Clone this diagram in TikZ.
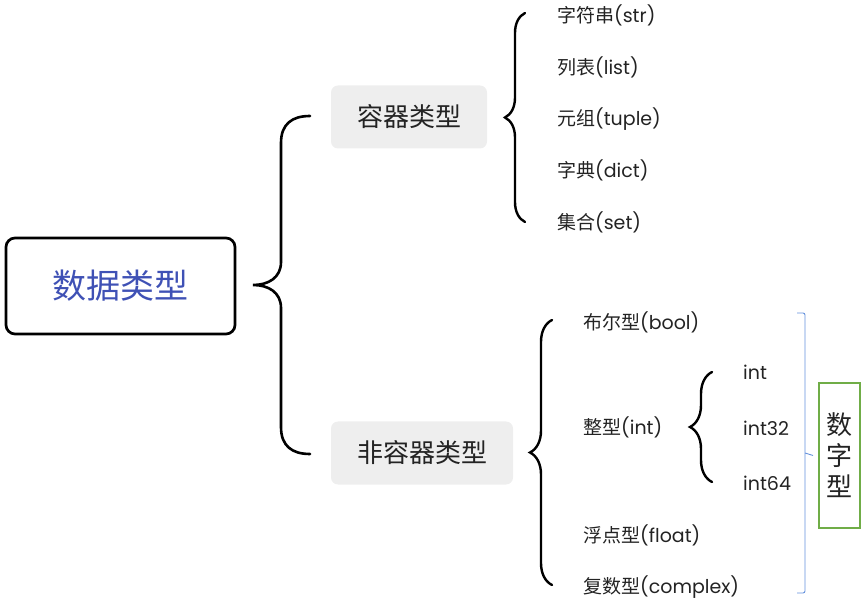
\documentclass[tikz,border=0pt]{standalone}
\usepackage{fontspec}
\setmainfont{Poppins}
\newfontfamily\zhfont{Noto Sans CJK SC}
\usetikzlibrary{decorations.pathreplacing}
\definecolor{rootblue}{RGB}{63,81,181}
\definecolor{boxgray}{RGB}{238,238,238}
\definecolor{numgreen}{RGB}{112,173,71}
\definecolor{bracketblue}{RGB}{100,145,220}
\definecolor{itemtext}{RGB}{35,35,35}
\tikzset{
  curly/.style={decorate,decoration={brace,amplitude=#1},line width=2.4pt,line cap=round},
  item/.style={anchor=west,inner sep=0pt,text=itemtext,font=\fontsize{19}{22}\selectfont},
  kind/.style={fill=boxgray,rounded corners=7pt,inner sep=0pt,minimum height=63pt,text=itemtext,font=\zhfont\fontsize{26}{30}\selectfont}
}

\begin{document}
\begin{tikzpicture}[x=1pt,y=-1pt]
        \useasboundingbox (0,0) rectangle (865,601);
        % root and the two kinds
        \node[draw,line width=2.7pt,rounded corners=9pt,minimum width=229pt,minimum height=96pt,
              text=rootblue,font=\zhfont\fontsize{34}{40}\selectfont] (root) at (120.5,286) {数据类型};
        \node[kind,minimum width=156pt] (cont) at (409,117) {容器类型};
        \node[kind,minimum width=182pt] (noncont) at (422,453) {非容器类型};
        % container items
        \node[item] (str) at (557,15) {{\zhfont 字符串}(str)};
        \node[item] (list) at (557,67) {{\zhfont 列表}(list)};
        \node[item] (tuple) at (557,119) {{\zhfont 元组}(tuple)};
        \node[item] (dict) at (557,170) {{\zhfont 字典}(dict)};
        \node[item] (set) at (557,222) {{\zhfont 集合}(set)};
        % non-container items
        \node[item] (bool) at (583,322) {{\zhfont 布尔型}(bool)};
        \node[item] (int) at (583,427) {{\zhfont 整型}(int)};
        \node[item] (float) at (583,535) {{\zhfont 浮点型}(float)};
        \node[item] (complex) at (583,587) {{\zhfont 复数型}(complex)};
        \node[item] (int0) at (743,372) {int};
        \node[item] (int32) at (743,428) {int32};
        \node[item] (int64) at (743,483) {int64};
        \node[draw=numgreen,line width=1.2pt,minimum width=41pt,minimum height=145pt,inner sep=0pt,
              align=center,text=itemtext,font=\zhfont\fontsize{26}{31}\selectfont] (num) at (839.5,455.5) {数\\字\\型};
        % braces
        \coordinate (rootT) at (310,116);
        \coordinate (rootB) at (310,454);
        \coordinate (rootM) at (253,285);
        \coordinate (contT) at (525,13);
        \coordinate (contB) at (525,222);
        \coordinate (nonT) at (552,320);
        \coordinate (nonB) at (552,585);
        \coordinate (intT) at (712,372);
        \coordinate (intB) at (712,482);
        \draw[line width=2.6pt,line cap=round] (rootT) .. controls (292,116) and (281,124) .. (281,143)
              -- (281,262) .. controls (281,278) and (268,285) .. (rootM)
              .. controls (268,285) and (281,292) .. (281,308)
              -- (281,427) .. controls (281,446) and (292,454) .. (rootB);
        \draw[curly=20] (contB) -- (contT);
        \draw[curly=22] (nonB) -- (nonT);
        \draw[curly=22] (intB) -- (intT);
        % number bracket
        \coordinate (numT) at (797,313);
        \coordinate (numB) at (797,593);
        \coordinate (numM) at (805,453);
        \draw[bracketblue,line width=0.9pt,rounded corners=2pt] (numT) -- (805,313) -- (805,593) -- (numB);
        \draw[bracketblue,line width=0.9pt] (numM) -- (num.west -| 813,0);
      \end{tikzpicture}
\end{document}
